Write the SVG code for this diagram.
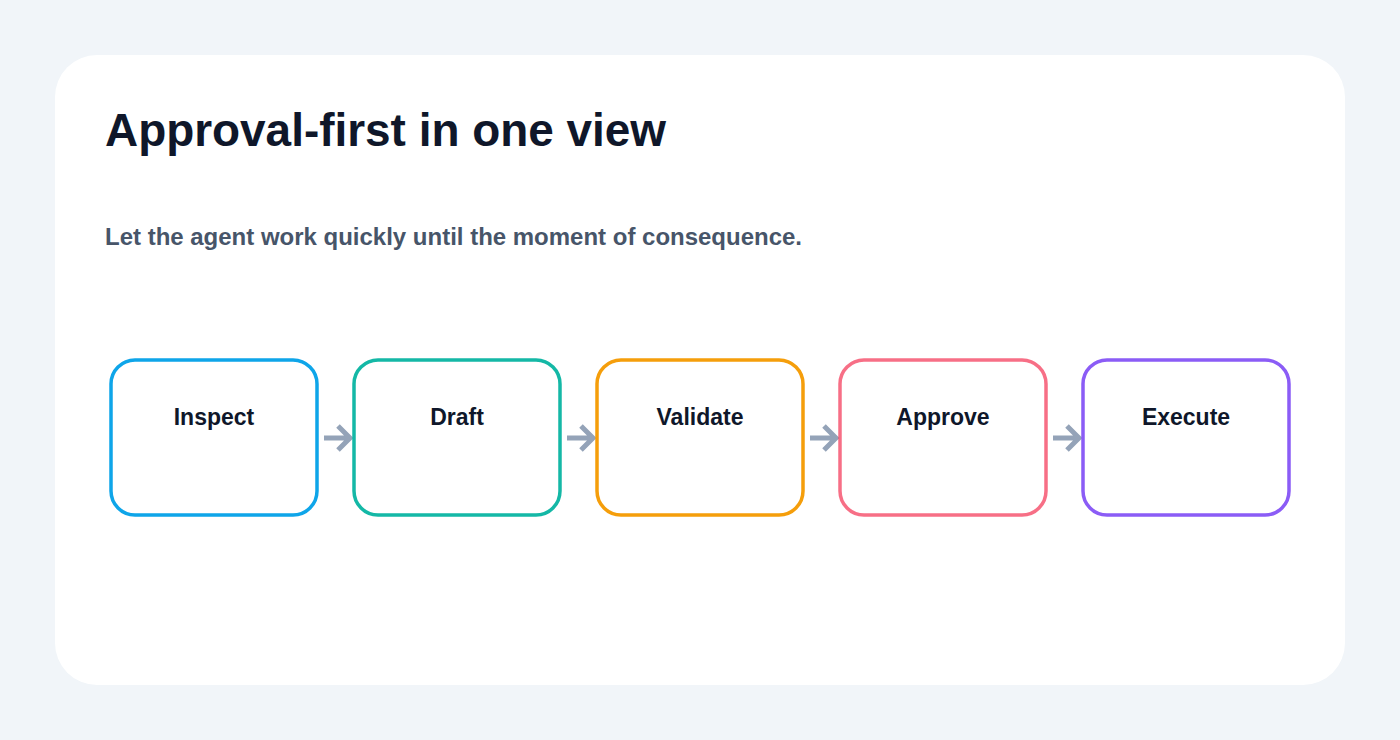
<svg xmlns="http://www.w3.org/2000/svg" width="1400" height="740" viewBox="0 0 1400 740">
<style>
.t{font-family:"Liberation Sans",Arial,sans-serif;font-weight:700}
.box{fill:#ffffff;stroke-width:3.5}
.lbl{font-size:23px;fill:#0f172a;text-anchor:middle}
.con{stroke:#94a3b8;stroke-width:5;fill:none}
</style>
<rect width="1400" height="740" fill="#f1f5f9"/>
<rect x="55" y="55" width="1290" height="630" rx="42" fill="#ffffff"/>
<text class="t" x="105" y="146" font-size="46" fill="#0f172a" textLength="561" lengthAdjust="spacingAndGlyphs">Approval-first in one view</text>
<text class="t" x="105" y="245" font-size="23" fill="#475569" textLength="697" lengthAdjust="spacingAndGlyphs">Let the agent work quickly until the moment of consequence.</text>
<g id="connectors">
<g transform="translate(324,438)"><path class="con" d="M0 0H26M14 -12L26 0L14 12"/></g>
<g transform="translate(567,438)"><path class="con" d="M0 0H26M14 -12L26 0L14 12"/></g>
<g transform="translate(810,438)"><path class="con" d="M0 0H26M14 -12L26 0L14 12"/></g>
<g transform="translate(1053,438)"><path class="con" d="M0 0H26M14 -12L26 0L14 12"/></g>
</g>
<g id="inspect"><rect class="box" x="111" y="360" width="206" height="155" rx="24" stroke="#0ea5e9"/><text class="t lbl" x="214" y="425">Inspect</text></g>
<g id="draft"><rect class="box" x="354" y="360" width="206" height="155" rx="24" stroke="#14b8a6"/><text class="t lbl" x="457" y="425">Draft</text></g>
<g id="validate"><rect class="box" x="597" y="360" width="206" height="155" rx="24" stroke="#f59e0b"/><text class="t lbl" x="700" y="425">Validate</text></g>
<g id="approve"><rect class="box" x="840" y="360" width="206" height="155" rx="24" stroke="#f43f5e" stroke-opacity="0.75"/><text class="t lbl" x="943" y="425">Approve</text></g>
<g id="execute"><rect class="box" x="1083" y="360" width="206" height="155" rx="24" stroke="#8b5cf6"/><text class="t lbl" x="1186" y="425">Execute</text></g>
</svg>
